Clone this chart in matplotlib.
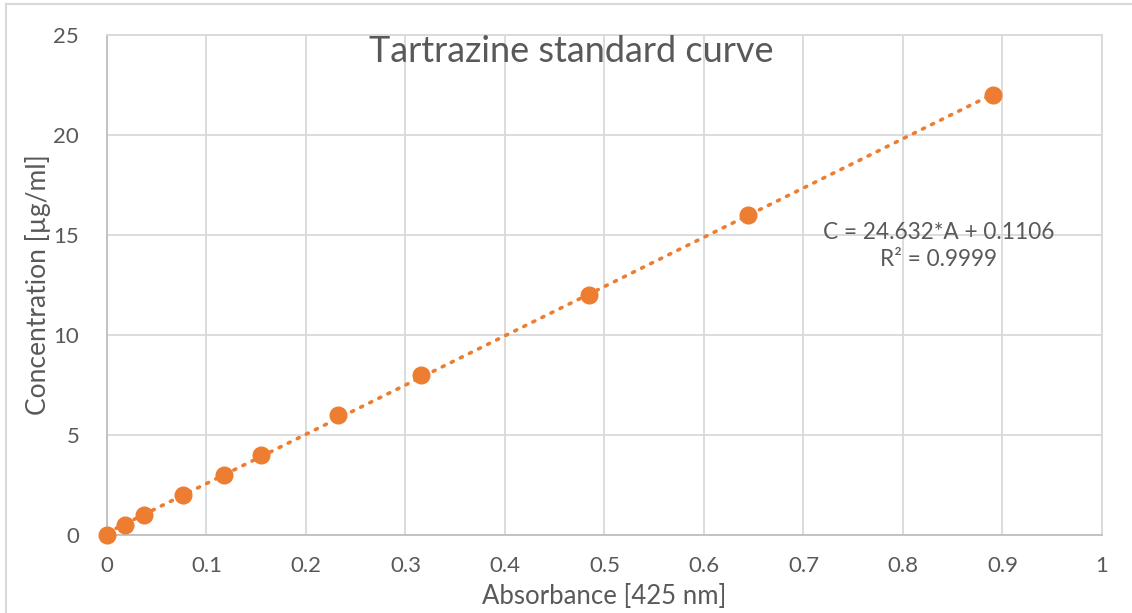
import matplotlib.pyplot as plt
from matplotlib.lines import Line2D
import numpy as np

# Standard solutions: absorbance at 425 nm vs concentration
absorbance = [0.0, 0.018, 0.037, 0.076, 0.118, 0.155, 0.232, 0.316, 0.484, 0.644, 0.890]
concentration = [0, 0.5, 1, 2, 3, 4, 6, 8, 12, 16, 22]

# Linear trendline fitted in the spreadsheet
slope = 24.632
intercept = 0.1106
r_squared = 0.9999

orange = '#ED7D31'
text_gray = '#595959'
grid_gray = '#D9D9D9'

plt.rcParams['font.family'] = ['Lato', 'DejaVu Sans']

fig = plt.figure(figsize=(11.32, 6.13), dpi=100)
ax = fig.add_axes([0.0945, 0.1272, 0.879, 0.8157])

# Trendline over the data range
xs = np.array([min(absorbance), max(absorbance)])
ax.plot(xs, slope * xs + intercept, color=orange, lw=2.6,
        linestyle=(0, (0.6, 2.2)), dash_capstyle='round', zorder=2)
ax.plot(absorbance, concentration, 'o', color=orange, ms=12, zorder=3,
        clip_on=False)

ax.set_xlim(0, 1)
ax.set_ylim(0, 25)
ax.set_xticks(np.arange(0, 1.01, 0.1))
ax.set_xticklabels(['0', '0.1', '0.2', '0.3', '0.4', '0.5', '0.6', '0.7', '0.8', '0.9', '1'])
ax.set_yticks(range(0, 26, 5))
ax.tick_params(length=0, labelsize=16, labelcolor=text_gray, pad=15)
ax.tick_params(axis='y', pad=20)
ax.grid(True, color=grid_gray, lw=1.3)
ax.set_axisbelow(True)
for side in ['top', 'right']:
    ax.spines[side].set_color(grid_gray)
    ax.spines[side].set_linewidth(1.3)
for side in ['left', 'bottom']:
    ax.spines[side].set_color('#BFBFBF')
    ax.spines[side].set_linewidth(1.3)

ax.set_xlabel('Absorbance [425 nm]', fontsize=18.5, color=text_gray, labelpad=6)
ax.set_ylabel('Concentration [µg/ml]', fontsize=19, color=text_gray, labelpad=2)

ax.text(0.467, 24.2, 'Tartrazine standard curve', ha='center', va='center',
        fontsize=26, color=text_gray)
ax.text(0.836, 14.45, f'C = {slope}*A + {intercept}\nR² = {r_squared}',
        ha='center', va='center', fontsize=16.3, color=text_gray,
        linespacing=1.3)

# Chart frame
fig.add_artist(Line2D([6 / 1132, 6 / 1132], [0, 1 - 4 / 613], color=grid_gray,
                      lw=1.5, transform=fig.transFigure))
fig.add_artist(Line2D([6 / 1132, 1], [1 - 4 / 613, 1 - 4 / 613], color=grid_gray,
                      lw=1.5, transform=fig.transFigure))

fig.savefig('out.png', dpi=100)
